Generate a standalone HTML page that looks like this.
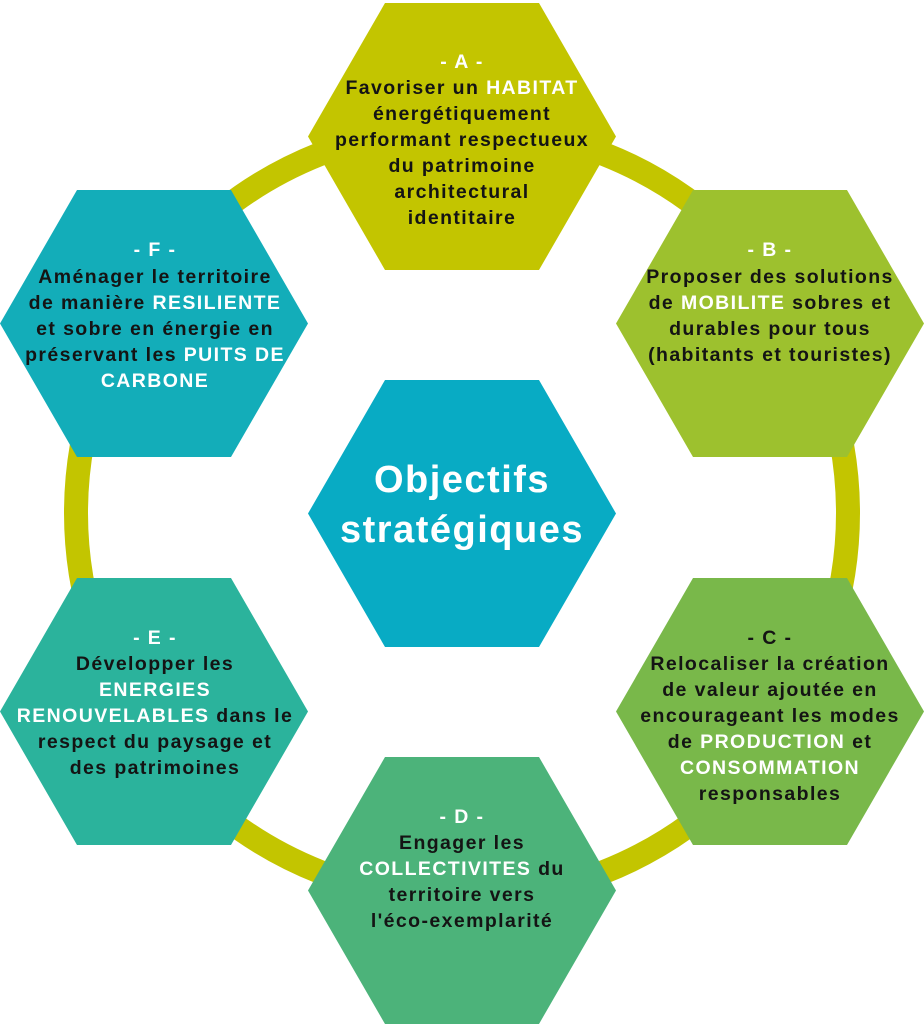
<!DOCTYPE html>
<html><head><meta charset="utf-8"><style>
html,body{margin:0;padding:0;background:#fff;}
svg{display:block}
text{font-family:"Liberation Sans",sans-serif;font-weight:bold;font-size:19.5px;letter-spacing:1.4px;fill:#141414;text-anchor:middle;dominant-baseline:central}
.w{fill:#fff}
</style></head><body>
<svg width="924" height="1024" viewBox="0 0 924 1024">
<circle cx="462" cy="513" r="386" fill="none" stroke="#c3c500" stroke-width="24"/>
<defs><polygon id="h" points="0,133.5 77,0 231,0 308,133.5 231,267 77,267"/></defs>
<use href="#h" x="308" y="3" fill="#c3c500"/>
<use href="#h" x="616" y="190" fill="#9dc12e"/>
<use href="#h" x="0" y="190" fill="#13adb9"/>
<use href="#h" x="308" y="380" fill="#08abc4"/>
<use href="#h" x="616" y="578" fill="#79b84a"/>
<use href="#h" x="0" y="578" fill="#2bb39c"/>
<use href="#h" x="308" y="757" fill="#4cb37a"/>

<g transform="translate(462,0)">
<text y="62" class="w">- A -</text>
<text y="88">Favoriser un <tspan class="w">HABITAT</tspan></text>
<text y="114">énergétiquement</text>
<text y="140">performant respectueux</text>
<text y="166">du patrimoine</text>
<text y="192">architectural</text>
<text y="218">identitaire</text>
</g>
<g transform="translate(770,0)">
<text y="250" class="w">- B -</text>
<text y="277">Proposer des solutions</text>
<text y="303">de <tspan class="w">MOBILITE</tspan> sobres et</text>
<text y="329">durables pour tous</text>
<text y="355">(habitants et touristes)</text>
</g>
<g transform="translate(155,0)">
<text y="250" class="w">- F -</text>
<text y="277">Aménager le territoire</text>
<text y="303">de manière <tspan class="w">RESILIENTE</tspan></text>
<text y="329">et sobre en énergie en</text>
<text y="355">préservant les <tspan class="w">PUITS DE</tspan></text>
<text y="381" class="w">CARBONE</text>
</g>
<g transform="translate(462,0)">
<text y="480" class="w" style="font-size:38px;letter-spacing:1.5px">Objectifs</text>
<text y="530" class="w" style="font-size:38px;letter-spacing:1.5px">stratégiques</text>
</g>
<g transform="translate(155,0)">
<text y="638" class="w">- E -</text>
<text y="664">Développer les</text>
<text y="690" class="w">ENERGIES</text>
<text y="716"><tspan class="w">RENOUVELABLES</tspan> dans le</text>
<text y="742">respect du paysage et</text>
<text y="768">des patrimoines</text>
</g>
<g transform="translate(770,0)">
<text y="638">- C -</text>
<text y="664">Relocaliser la création</text>
<text y="690">de valeur ajoutée en</text>
<text y="716">encourageant les modes</text>
<text y="742">de <tspan class="w">PRODUCTION</tspan> et</text>
<text y="768" class="w">CONSOMMATION</text>
<text y="794">responsables</text>
</g>
<g transform="translate(462,0)">
<text y="817" class="w">- D -</text>
<text y="843">Engager les</text>
<text y="869"><tspan class="w">COLLECTIVITES</tspan> du</text>
<text y="895">territoire vers</text>
<text y="921">l'éco-exemplarité</text>
</g>
</svg>
</body></html>
